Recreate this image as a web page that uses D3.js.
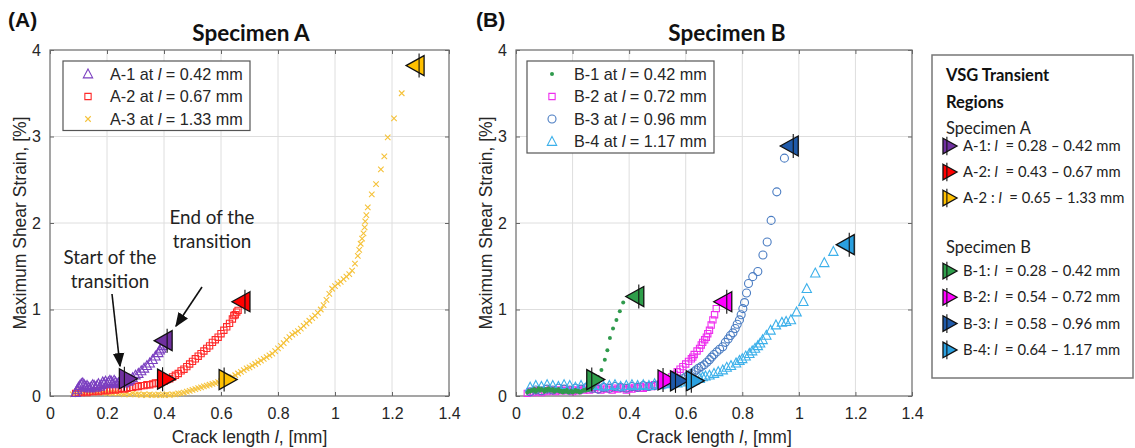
<!DOCTYPE html>
<html><head><meta charset="utf-8">
<script src="https://cdn.jsdelivr.net/npm/d3@7"></script>
<style>body{margin:0;background:#fff}svg{display:block}</style>
</head><body>
<svg id="c" width="1135" height="448"></svg>
<script>
// ---------- DATA ----------
const xTicks = [0, 0.2, 0.4, 0.6, 0.8, 1, 1.2, 1.4];
const yTicks = [0, 1, 2, 3, 4];

const seriesA1 = [[0.09,0.04],[0.095,0.07],[0.10,0.10],[0.105,0.12],[0.11,0.14],[0.115,0.15],[0.12,0.13],[0.125,0.11],[0.13,0.12],[0.135,0.10],[0.14,0.09],[0.145,0.11],[0.15,0.13],[0.155,0.12],[0.16,0.10],[0.165,0.12],[0.17,0.14],[0.175,0.11],[0.18,0.13],[0.185,0.16],[0.19,0.15],[0.195,0.17],[0.20,0.14],[0.205,0.16],[0.21,0.18],[0.215,0.17],[0.22,0.15],[0.225,0.18],[0.23,0.16],[0.235,0.14],[0.24,0.15],[0.245,0.17],[0.25,0.16],[0.255,0.18],[0.26,0.15],[0.265,0.17],[0.27,0.18],[0.275,0.17],[0.28,0.19],[0.29,0.21],[0.30,0.24],[0.31,0.26],[0.32,0.29],[0.33,0.32],[0.34,0.35],[0.35,0.38],[0.36,0.42],[0.37,0.46],[0.38,0.50],[0.385,0.53],[0.39,0.55],[0.395,0.58],[0.40,0.60]];
const seriesA2 = [[0.09,0.03],[0.10,0.04],[0.11,0.04],[0.12,0.05],[0.13,0.04],[0.14,0.05],[0.15,0.05],[0.16,0.06],[0.17,0.05],[0.18,0.06],[0.19,0.07],[0.20,0.06],[0.21,0.07],[0.22,0.08],[0.23,0.07],[0.24,0.08],[0.25,0.09],[0.26,0.08],[0.27,0.09],[0.28,0.10],[0.29,0.10],[0.30,0.11],[0.31,0.11],[0.32,0.12],[0.33,0.12],[0.34,0.13],[0.35,0.13],[0.36,0.14],[0.37,0.15],[0.38,0.15],[0.39,0.16],[0.40,0.17],[0.41,0.19],[0.42,0.20],[0.43,0.22],[0.44,0.24],[0.45,0.26],[0.46,0.29],[0.47,0.31],[0.48,0.34],[0.49,0.37],[0.50,0.40],[0.51,0.43],[0.52,0.46],[0.53,0.49],[0.54,0.52],[0.55,0.55],[0.56,0.58],[0.57,0.62],[0.58,0.65],[0.59,0.68],[0.60,0.72],[0.61,0.76],[0.62,0.80],[0.63,0.84],[0.64,0.89],[0.645,0.93],[0.65,0.94],[0.655,0.97],[0.66,0.99]];
const seriesA3 = [[0.08,0.02],[0.09,0.04],[0.10,0.05],[0.11,0.04],[0.12,0.05],[0.13,0.06],[0.14,0.05],[0.15,0.04],[0.16,0.05],[0.17,0.04],[0.18,0.05],[0.19,0.04],[0.20,0.03],[0.21,0.04],[0.22,0.03],[0.23,0.04],[0.24,0.03],[0.25,0.03],[0.26,0.02],[0.27,0.03],[0.28,0.02],[0.29,0.03],[0.30,0.02],[0.31,0.02],[0.32,0.01],[0.33,0.02],[0.34,0.01],[0.35,0.02],[0.36,0.01],[0.37,0.01],[0.38,0.02],[0.39,0.01],[0.40,0.01],[0.41,0.02],[0.42,0.01],[0.43,0.02],[0.44,0.02],[0.45,0.03],[0.46,0.03],[0.47,0.04],[0.48,0.05],[0.49,0.06],[0.50,0.07],[0.51,0.08],[0.52,0.09],[0.53,0.10],[0.54,0.11],[0.55,0.12],[0.56,0.13],[0.57,0.14],[0.58,0.15],[0.59,0.16],[0.60,0.17],[0.61,0.18],[0.62,0.19],[0.63,0.21],[0.64,0.22],[0.65,0.24],[0.66,0.26],[0.67,0.28],[0.68,0.30],[0.69,0.32],[0.70,0.33],[0.71,0.35],[0.72,0.37],[0.73,0.39],[0.74,0.41],[0.75,0.43],[0.76,0.45],[0.77,0.47],[0.78,0.49],[0.79,0.52],[0.80,0.55],[0.81,0.58],[0.82,0.61],[0.83,0.65],[0.84,0.68],[0.85,0.71],[0.86,0.73],[0.87,0.75],[0.88,0.78],[0.89,0.81],[0.90,0.84],[0.91,0.87],[0.92,0.90],[0.93,0.93],[0.94,0.96],[0.95,1.00],[0.96,1.05],[0.97,1.11],[0.98,1.18],[0.99,1.24],[1.00,1.27],[1.01,1.30],[1.02,1.32],[1.03,1.35],[1.04,1.38],[1.05,1.41],[1.06,1.45],[1.07,1.53],[1.08,1.62],[1.085,1.69],[1.09,1.76],[1.095,1.82],[1.10,1.88],[1.104,1.95],[1.106,2.02],[1.11,2.09],[1.115,2.18],[1.129,2.33],[1.144,2.45],[1.161,2.62],[1.173,2.77],[1.185,2.99],[1.207,3.21],[1.234,3.50]];

const seriesB1 = [[0.04,0.04],[0.045,0.06],[0.05,0.05],[0.055,0.07],[0.06,0.06],[0.065,0.08],[0.07,0.05],[0.075,0.07],[0.08,0.09],[0.085,0.06],[0.09,0.08],[0.095,0.07],[0.10,0.05],[0.105,0.08],[0.11,0.06],[0.115,0.09],[0.12,0.07],[0.125,0.06],[0.13,0.08],[0.135,0.05],[0.14,0.07],[0.145,0.06],[0.15,0.08],[0.155,0.05],[0.16,0.06],[0.165,0.04],[0.17,0.06],[0.175,0.05],[0.18,0.07],[0.185,0.04],[0.19,0.05],[0.195,0.06],[0.20,0.04],[0.205,0.05],[0.21,0.07],[0.215,0.05],[0.22,0.06],[0.225,0.04],[0.23,0.05],[0.235,0.06],[0.24,0.07],[0.245,0.06],[0.25,0.08],[0.255,0.07],[0.26,0.09],[0.265,0.08],[0.27,0.10],[0.275,0.12],[0.28,0.15],[0.29,0.22],[0.302,0.30],[0.314,0.42],[0.323,0.53],[0.332,0.67],[0.343,0.78],[0.355,0.88],[0.367,0.98],[0.379,1.08]];
const seriesB2 = [[0.04,0.03],[0.05,0.05],[0.06,0.04],[0.07,0.06],[0.08,0.05],[0.09,0.04],[0.10,0.06],[0.11,0.05],[0.12,0.07],[0.13,0.06],[0.14,0.05],[0.15,0.07],[0.16,0.06],[0.17,0.08],[0.18,0.06],[0.19,0.07],[0.20,0.05],[0.21,0.07],[0.22,0.06],[0.23,0.08],[0.24,0.07],[0.25,0.09],[0.26,0.07],[0.27,0.08],[0.28,0.10],[0.29,0.08],[0.30,0.07],[0.31,0.09],[0.32,0.08],[0.33,0.10],[0.34,0.07],[0.35,0.09],[0.36,0.08],[0.37,0.10],[0.38,0.09],[0.39,0.07],[0.40,0.09],[0.41,0.08],[0.42,0.10],[0.43,0.09],[0.44,0.11],[0.45,0.09],[0.46,0.10],[0.47,0.12],[0.48,0.11],[0.49,0.13],[0.50,0.12],[0.51,0.14],[0.52,0.15],[0.53,0.17],[0.55,0.22],[0.56,0.25],[0.57,0.28],[0.58,0.31],[0.59,0.34],[0.60,0.37],[0.61,0.40],[0.62,0.43],[0.625,0.45],[0.63,0.48],[0.64,0.52],[0.649,0.55],[0.655,0.59],[0.66,0.62],[0.667,0.65],[0.673,0.68],[0.678,0.72],[0.684,0.76],[0.69,0.82],[0.696,0.88],[0.702,0.94],[0.708,1.01]];
const seriesB3 = [[0.05,0.05],[0.07,0.07],[0.09,0.06],[0.11,0.08],[0.13,0.07],[0.15,0.09],[0.17,0.08],[0.19,0.07],[0.21,0.09],[0.23,0.08],[0.25,0.10],[0.27,0.09],[0.29,0.08],[0.31,0.10],[0.33,0.09],[0.35,0.11],[0.37,0.10],[0.39,0.09],[0.41,0.11],[0.43,0.10],[0.45,0.12],[0.47,0.11],[0.49,0.12],[0.51,0.13],[0.53,0.14],[0.55,0.15],[0.57,0.17],[0.59,0.20],[0.60,0.22],[0.61,0.24],[0.62,0.26],[0.63,0.28],[0.637,0.30],[0.645,0.32],[0.655,0.34],[0.665,0.36],[0.675,0.39],[0.684,0.42],[0.692,0.45],[0.70,0.48],[0.71,0.51],[0.72,0.54],[0.731,0.57],[0.74,0.62],[0.75,0.66],[0.758,0.70],[0.767,0.73],[0.775,0.78],[0.782,0.83],[0.79,0.88],[0.796,0.94],[0.802,1.01],[0.808,1.08],[0.815,1.19],[0.822,1.30],[0.837,1.38],[0.855,1.44],[0.873,1.63],[0.888,1.78],[0.902,2.03],[0.922,2.36],[0.949,2.75]];
const seriesB4 = [[0.05,0.10],[0.07,0.12],[0.09,0.11],[0.11,0.13],[0.13,0.12],[0.15,0.11],[0.17,0.13],[0.19,0.12],[0.21,0.10],[0.23,0.12],[0.25,0.11],[0.27,0.13],[0.29,0.12],[0.31,0.11],[0.33,0.12],[0.35,0.13],[0.37,0.11],[0.39,0.12],[0.41,0.13],[0.43,0.12],[0.45,0.13],[0.47,0.12],[0.49,0.14],[0.51,0.13],[0.53,0.14],[0.55,0.15],[0.57,0.15],[0.59,0.16],[0.61,0.17],[0.63,0.18],[0.65,0.20],[0.66,0.22],[0.67,0.23],[0.684,0.24],[0.70,0.26],[0.715,0.28],[0.731,0.30],[0.745,0.33],[0.76,0.35],[0.778,0.38],[0.79,0.41],[0.80,0.43],[0.812,0.46],[0.825,0.49],[0.835,0.52],[0.845,0.55],[0.855,0.58],[0.863,0.61],[0.872,0.65],[0.885,0.70],[0.90,0.76],[0.919,0.82],[0.94,0.85],[0.955,0.86],[0.972,0.88],[0.992,0.97],[1.016,1.09],[1.028,1.24],[1.058,1.42],[1.09,1.54],[1.122,1.67]];

// transition markers [x, y]
const startA = [[0.275,0.20],[0.409,0.195],[0.625,0.19]];
const endA   = [[0.397,0.64],[0.670,1.09],[1.281,3.82]];
const startB = [[0.282,0.19],[0.534,0.185],[0.578,0.175],[0.634,0.175]];
const endB   = [[0.420,1.15],[0.731,1.09],[0.966,2.89],[1.164,1.75]];

const legendA = ["A-1", "A-2", "A-3"];
const legendAl = ["0.42", "0.67", "1.33"];
const legendB = ["B-1", "B-2", "B-3", "B-4"];
const legendBl = ["0.42", "0.72", "0.96", "1.17"];
const vsgA = [["A-1:", "0.28", "0.42"], ["A-2:", "0.43", "0.67"], ["A-2 :", "0.65", "1.33"]];
const vsgB = [["B-1:", "0.28", "0.42"], ["B-2:", "0.54", "0.72"], ["B-3:", "0.58", "0.96"], ["B-4:", "0.64", "1.17"]];

// ---------- STYLE ----------
const colA = [{s:"#7b3fc0", f:"#7030a0"}, {s:"#ff2a2a", f:"#ff0000"}, {s:"#f5c23a", f:"#ffc000"}];
const colB = [{s:"#2f9a4c", f:"#2e9e4a"}, {s:"#ee2fee", f:"#ff00ff"}, {s:"#4a7cc2", f:"#1f5aaa"}, {s:"#3cb0ea", f:"#2aa0e0"}];
const tickFont = "'Liberation Sans', Arial, sans-serif";
const calFont = "Lato, 'Open Sans', sans-serif";

const svg = d3.select("#c");
const y = d3.scaleLinear().domain([0, 4]).range([396, 50]);
const xA = d3.scaleLinear().domain([0, 1.4]).range([50, 449]);
const xB = d3.scaleLinear().domain([0, 1.4]).range([516, 912]);

function fmt(d){ return d === 0 ? "0" : d3.format("~g")(d); }

function panel(x){
  const g = svg.append("g");
  const [x0, x1] = x.range();
  g.append("g").selectAll("line").data(xTicks.slice(1, -1)).join("line")
    .attr("x1", d => x(d)).attr("x2", d => x(d)).attr("y1", y(0)).attr("y2", y(4))
    .attr("stroke", "#dedede").attr("stroke-width", 1);
  g.append("g").selectAll("line").data(yTicks.slice(1, -1)).join("line")
    .attr("x1", x0).attr("x2", x1).attr("y1", d => y(d)).attr("y2", d => y(d))
    .attr("stroke", "#dedede").attr("stroke-width", 1);
  const ax = g.append("g").attr("transform", `translate(0,${y(0)})`)
    .call(d3.axisBottom(x).tickValues(xTicks).tickFormat(fmt).tickSizeInner(-4).tickSizeOuter(0).tickPadding(12));
  const axT = g.append("g").attr("transform", `translate(0,${y(4)})`)
    .call(d3.axisTop(x).tickValues(xTicks).tickFormat("").tickSizeInner(-4).tickSizeOuter(0));
  const ay = g.append("g").attr("transform", `translate(${x0},0)`)
    .call(d3.axisLeft(y).tickValues(yTicks).tickFormat(fmt).tickSizeInner(-4).tickSizeOuter(0).tickPadding(9));
  const ayR = g.append("g").attr("transform", `translate(${x1},0)`)
    .call(d3.axisRight(y).tickValues(yTicks).tickFormat("").tickSizeInner(-4).tickSizeOuter(0));
  [ax, axT, ay, ayR].forEach(a => {
    a.select(".domain").remove();
    a.selectAll("line").attr("stroke", "#666");
    a.selectAll("text").attr("font-family", tickFont).attr("font-size", 16).attr("fill", "#262626");
  });
  g.append("rect").attr("x", x0).attr("y", y(4)).attr("width", x1 - x0).attr("height", y(0) - y(4))
    .attr("fill", "none").attr("stroke", "#6a6a6a").attr("stroke-width", 1.2);
  const lx = svg.append("text").attr("x", (x0 + x1) / 2).attr("y", 443).attr("text-anchor", "middle")
    .attr("font-family", tickFont).attr("font-size", 17.5).attr("fill", "#262626");
  lx.append("tspan").text("Crack length ");
  lx.append("tspan").attr("font-style", "italic").text("l");
  lx.append("tspan").text(", [mm]");
  svg.append("text").attr("transform", `translate(${x0 - 24},${(y(0) + y(4)) / 2}) rotate(-90)`)
    .attr("text-anchor", "middle").attr("font-family", tickFont).attr("font-size", 17.5).attr("fill", "#262626")
    .text("Maximum Shear Strain, [%]");
  return g;
}
const gA = panel(xA);
const gB = panel(xB);

function triUp(s){ return `M0,${-s*0.6}L${s*0.55},${s*0.45}L${-s*0.55},${s*0.45}Z`; }
function sq(s){ return `M${-s/2},${-s/2}h${s}v${s}h${-s}Z`; }
function xMark(s){ return `M${-s/2},${-s/2}L${s/2},${s/2}M${-s/2},${s/2}L${s/2},${-s/2}`; }

function scatter(g, x, data, kind, color){
  const sel = g.append("g");
  if (kind === "dot") {
    sel.selectAll("circle").data(data).join("circle")
      .attr("cx", d => x(d[0])).attr("cy", d => y(d[1])).attr("r", 2).attr("fill", color);
  } else if (kind === "circle") {
    sel.selectAll("circle").data(data).join("circle")
      .attr("cx", d => x(d[0])).attr("cy", d => y(d[1])).attr("r", 4)
      .attr("fill", "none").attr("stroke", color).attr("stroke-width", 1.1);
  } else {
    const p = kind === "tri" ? triUp(8.5) : kind === "sq" ? sq(6.3) : xMark(5.5);
    sel.selectAll("path").data(data).join("path")
      .attr("transform", d => `translate(${x(d[0])},${y(d[1])})`).attr("d", p)
      .attr("fill", "none").attr("stroke", color).attr("stroke-width", 1.1);
  }
}

scatter(gA, xA, seriesA3, "x", colA[2].s);
scatter(gA, xA, seriesA2, "sq", colA[1].s);
scatter(gA, xA, seriesA1, "tri", colA[0].s);

scatter(gB, xB, seriesB2, "sq", colB[1].s);
scatter(gB, xB, seriesB3, "circle", colB[2].s);
scatter(gB, xB, seriesB4, "tri", colB[3].s);
scatter(gB, xB, seriesB1, "dot", colB[0].s);

function bigTri(g, cx, cy, dir, fill, s){
  s = s || 1;
  const w = 9 * s, h = 10 * s;
  const pts = dir > 0 ? `M${cx - w},${cy - h}L${cx + w},${cy}L${cx - w},${cy + h}Z`
                      : `M${cx + w},${cy - h}L${cx - w},${cy}L${cx + w},${cy + h}Z`;
  g.append("path").attr("d", pts).attr("fill", fill).attr("stroke", "#111").attr("stroke-width", 1.3).attr("stroke-linejoin", "miter");
  const lx = cx - dir * 4 * s;
  g.append("line").attr("x1", lx).attr("x2", lx).attr("y1", cy - h - 2 * s).attr("y2", cy + h + 2 * s)
    .attr("stroke", "#111").attr("stroke-width", 1.1);
}
startA.forEach((d, i) => bigTri(gA, xA(d[0]), y(d[1]), 1, colA[i].f));
endA.forEach((d, i) => bigTri(gA, xA(d[0]), y(d[1]), -1, colA[i].f));
startB.forEach((d, i) => bigTri(gB, xB(d[0]), y(d[1]), 1, colB[i].f));
endB.forEach((d, i) => bigTri(gB, xB(d[0]), y(d[1]), -1, colB[i].f));

function legend(x0, y0, w, names, ls, kinds, cols){
  const g = svg.append("g");
  g.append("rect").attr("x", x0).attr("y", y0).attr("width", w).attr("height", names.length * 22.5 + 2)
    .attr("fill", "#fff").attr("stroke", "#555").attr("stroke-width", 1.2);
  names.forEach((n, i) => {
    const cy = y0 + 13 + i * 22.5;
    const sx = x0 + 25;
    if (kinds[i] === "dot") g.append("circle").attr("cx", sx).attr("cy", cy).attr("r", 2).attr("fill", cols[i].s);
    else if (kinds[i] === "circle") g.append("circle").attr("cx", sx).attr("cy", cy).attr("r", 4).attr("fill", "none").attr("stroke", cols[i].s).attr("stroke-width", 1.1);
    else {
      const p = kinds[i] === "tri" ? triUp(8.5) : kinds[i] === "sq" ? sq(6.3) : xMark(5.5);
      g.append("path").attr("transform", `translate(${sx},${cy})`).attr("d", p).attr("fill", "none").attr("stroke", cols[i].s).attr("stroke-width", 1.1);
    }
    const t = g.append("text").attr("x", x0 + 47).attr("y", cy + 5.5).attr("font-family", tickFont).attr("font-size", 16.2).attr("fill", "#262626");
    t.append("tspan").text(n + " at ");
    t.append("tspan").attr("font-style", "italic").text("l");
    t.append("tspan").text(" = " + ls[i] + " mm");
  });
}
legend(63, 61, 187, legendA, legendAl, ["tri", "sq", "x"], colA);
legend(527, 61, 187, legendB, legendBl, ["dot", "sq", "circle", "tri"], colB);

svg.append("text").attr("x", 8).attr("y", 27).attr("font-family", tickFont).attr("font-weight", "bold").attr("font-size", 21).attr("fill", "#111").text("(A)");
svg.append("text").attr("x", 476).attr("y", 27).attr("font-family", tickFont).attr("font-weight", "bold").attr("font-size", 21).attr("fill", "#111").text("(B)");
svg.append("text").attr("x", 251).attr("y", 41).attr("text-anchor", "middle").attr("font-family", calFont).attr("font-weight", "bold").attr("font-size", 22.5).attr("fill", "#111").text("Specimen A");
svg.append("text").attr("x", 727).attr("y", 41).attr("text-anchor", "middle").attr("font-family", calFont).attr("font-weight", "bold").attr("font-size", 22.5).attr("fill", "#111").text("Specimen B");

svg.append("defs").append("marker").attr("id", "ah").attr("viewBox", "0 0 10 10").attr("refX", 9).attr("refY", 5)
  .attr("markerWidth", 9).attr("markerHeight", 9).attr("orient", "auto-start-reverse")
  .append("path").attr("d", "M0,1L10,5L0,9Z").attr("fill", "#111");
function note(lines, cx, cy0, fs){
  lines.forEach((l, i) => svg.append("text").attr("x", cx).attr("y", cy0 + i * 24).attr("text-anchor", "middle")
    .attr("font-family", calFont).attr("font-size", fs).attr("fill", "#222").text(l));
}
note(["Start of the", "transition"], 110, 264, 18.8);
note(["End of the", "transition"], 212, 224, 18.8);
svg.append("line").attr("x1", 112).attr("y1", 294).attr("x2", 120).attr("y2", 366).attr("stroke", "#111").attr("stroke-width", 1.6).attr("marker-end", "url(#ah)");
svg.append("line").attr("x1", 202).attr("y1", 287).attr("x2", 176).attr("y2", 326).attr("stroke", "#111").attr("stroke-width", 1.6).attr("marker-end", "url(#ah)");

const vg = svg.append("g");
vg.append("rect").attr("x", 932).attr("y", 55).attr("width", 201).attr("height", 323).attr("fill", "#fff").attr("stroke", "#777").attr("stroke-width", 1.5);
vg.append("text").attr("x", 946).attr("y", 81).attr("font-family", calFont).attr("font-weight", "bold").attr("font-size", 16.5).attr("fill", "#111").text("VSG Transient");
vg.append("text").attr("x", 946).attr("y", 108).attr("font-family", calFont).attr("font-weight", "bold").attr("font-size", 16.5).attr("fill", "#111").text("Regions");
vg.append("text").attr("x", 946).attr("y", 134).attr("font-family", calFont).attr("font-size", 16.5).attr("fill", "#222").text("Specimen A");
vg.append("text").attr("x", 946).attr("y", 253).attr("font-family", calFont).attr("font-size", 16.5).attr("fill", "#222").text("Specimen B");
function vsgRow(r, cy, fill){
  bigTri(vg, 950, cy, 1, fill, 0.78);
  const t = vg.append("text").attr("x", 963).attr("y", cy + 5).attr("font-family", calFont).attr("font-size", 14.8).attr("fill", "#222");
  t.append("tspan").text(r[0] + " ");
  t.append("tspan").attr("font-style", "italic").text("l");
  t.append("tspan").text("\u00a0 = " + r[1] + " \u2013 " + r[2] + " mm");
}
vsgA.forEach((r, i) => vsgRow(r, 146 + i * 26, colA[i].f));
vsgB.forEach((r, i) => vsgRow(r, 271 + i * 26.3, colB[i].f));
</script>
</body></html>
